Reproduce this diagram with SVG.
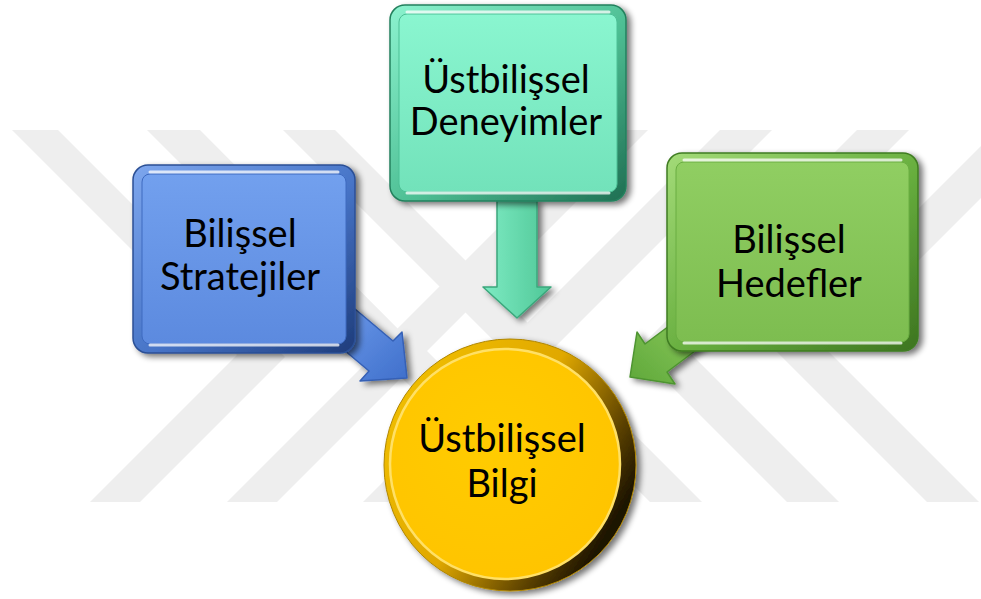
<svg xmlns="http://www.w3.org/2000/svg" width="981" height="599" viewBox="0 0 981 599">
<defs>
  <style>
    .wm { fill: #EEEEEE; }
    .lbl { font-family: Lato, "Open Sans", "DejaVu Sans", sans-serif; font-size: 38px; fill: #000; text-anchor: middle; }
    .hl { fill: none; stroke: #FFFFFF; stroke-width: 3; stroke-linecap: round; opacity: 0.75; }
  </style>
  <filter id="sh" x="-15%" y="-15%" width="135%" height="135%">
    <feGaussianBlur in="SourceAlpha" stdDeviation="3"/>
    <feOffset dx="4" dy="3" result="o"/>
    <feComponentTransfer><feFuncA type="linear" slope="0.55"/></feComponentTransfer>
    <feMerge><feMergeNode/><feMergeNode in="SourceGraphic"/></feMerge>
  </filter>
  <linearGradient id="bFrame" x1="0" y1="0" x2="1" y2="1">
    <stop offset="0" stop-color="#7EA7EE"/><stop offset="0.55" stop-color="#4673C6"/><stop offset="1" stop-color="#1E3C7A"/>
  </linearGradient>
  <linearGradient id="bFace" x1="0" y1="0" x2="0" y2="1">
    <stop offset="0" stop-color="#72A0EE"/><stop offset="1" stop-color="#5C8ADF"/>
  </linearGradient>
  <linearGradient id="tFrame" x1="0" y1="0" x2="1" y2="1">
    <stop offset="0" stop-color="#8CF3CF"/><stop offset="0.55" stop-color="#4DBE93"/><stop offset="1" stop-color="#1F6E52"/>
  </linearGradient>
  <linearGradient id="tFace" x1="0" y1="0" x2="0" y2="1">
    <stop offset="0" stop-color="#8AF6D0"/><stop offset="1" stop-color="#72E2BA"/>
  </linearGradient>
  <linearGradient id="gFrame" x1="0" y1="0" x2="1" y2="1">
    <stop offset="0" stop-color="#A3DB78"/><stop offset="0.55" stop-color="#66AD3D"/><stop offset="1" stop-color="#3D7420"/>
  </linearGradient>
  <linearGradient id="gFace" x1="0" y1="0" x2="0" y2="1">
    <stop offset="0" stop-color="#90CE62"/><stop offset="1" stop-color="#7DBD50"/>
  </linearGradient>
  <linearGradient id="yRim" x1="0" y1="0" x2="1" y2="0.6">
    <stop offset="0" stop-color="#F5C400"/><stop offset="0.55" stop-color="#E0A800"/><stop offset="0.85" stop-color="#5A4000"/><stop offset="1" stop-color="#1A1200"/>
  </linearGradient>
  <radialGradient id="yFace" cx="0.45" cy="0.4" r="0.7">
    <stop offset="0" stop-color="#FFCC00"/><stop offset="1" stop-color="#FFC300"/>
  </radialGradient>
  <linearGradient id="bArrow" x1="0" y1="0" x2="1" y2="1">
    <stop offset="0" stop-color="#6D9BEB"/><stop offset="1" stop-color="#3F6FCB"/>
  </linearGradient>
  <linearGradient id="tArrow" x1="0" y1="0" x2="1" y2="0">
    <stop offset="0" stop-color="#7EEBC3"/><stop offset="1" stop-color="#4FC797"/>
  </linearGradient>
  <linearGradient id="gArrow" x1="1" y1="0" x2="0" y2="1">
    <stop offset="0" stop-color="#8DCB5E"/><stop offset="1" stop-color="#5FA83A"/>
  </linearGradient>
</defs>

<rect width="981" height="599" fill="#FFFFFF"/>

<g id="watermark">
  <polygon class="wm" points="12,130 58,130 285,357 140,502 90,502 237,355"/>
  <polygon class="wm" points="147,130 200,130 424,355 277,502 227,502 373,356"/>
  <polygon class="wm" points="283,130 335,130 560,355 413,502 363,502 509,356"/>
  <polygon class="wm" points="596,130 648,130 427,351 578,502 526,502 375,351"/>
  <polygon class="wm" points="720,130 772,130 551,351 702,502 650,502 499,351"/>
  <polygon class="wm" points="857,130 909,130 688,351 839,502 787,502 636,351"/>
  <polygon class="wm" points="997,130 1049,130 828,351 979,502 927,502 776,351"/>
</g>

<g id="connectors">
  <polygon fill="url(#bArrow)" stroke="#3560B5" stroke-width="1.5" stroke-linejoin="round" filter="url(#sh)"
    points="355,309 393,341 402,332 407,378 360,381 369,371 331,339"/>
  <polygon fill="url(#tArrow)" stroke="#3BA77C" stroke-width="1.5" stroke-linejoin="round" filter="url(#sh)"
    points="497,200 537,200 537,287 551,287 517,318 483,287 497,287"/>
  <polygon fill="url(#gArrow)" stroke="#4E9430" stroke-width="1.5" stroke-linejoin="round" filter="url(#sh)"
    points="685,314 645,344 637,332 630,377 675,384 667,372 707,342"/>
</g>

<g id="node-stratejiler">
  <rect x="133" y="165" width="222" height="188" rx="15" fill="url(#bFrame)" stroke="#2B4F95" stroke-width="1.5" filter="url(#sh)"/>
  <rect x="142" y="174" width="204" height="170" rx="8" fill="url(#bFace)" stroke="#3E6AC0" stroke-width="1"/>
  <path class="hl" d="M150,172 H338"/>
  <path class="hl" d="M150,345 H338" stroke-width="4"/>
  <text class="lbl" x="240" y="247">Bilişsel</text>
  <text class="lbl" x="240" y="290">Stratejiler</text>
</g>

<g id="node-deneyimler">
  <rect x="390" y="5" width="236" height="196" rx="15" fill="url(#tFrame)" stroke="#23805D" stroke-width="1.5" filter="url(#sh)"/>
  <rect x="399" y="14" width="218" height="178" rx="8" fill="url(#tFace)" stroke="#4CC096" stroke-width="1"/>
  <path class="hl" d="M407,12 H609"/>
  <path class="hl" d="M407,193 H609" stroke-width="4"/>
  <text class="lbl" x="506" y="93">Üstbilişsel</text>
  <text class="lbl" x="506" y="135">Deneyimler</text>
</g>

<g id="node-hedefler">
  <rect x="667" y="153" width="251" height="198" rx="15" fill="url(#gFrame)" stroke="#3F7C22" stroke-width="1.5" filter="url(#sh)"/>
  <rect x="676" y="162" width="233" height="180" rx="8" fill="url(#gFace)" stroke="#6AAE42" stroke-width="1"/>
  <path class="hl" d="M684,160 H901"/>
  <path class="hl" d="M684,343 H901" stroke-width="4"/>
  <text class="lbl" x="789" y="253">Bilişsel</text>
  <text class="lbl" x="789" y="297">Hedefler</text>
</g>

<g id="node-bilgi">
  <circle cx="510" cy="465" r="126" fill="url(#yRim)" stroke="#B08600" stroke-width="1" filter="url(#sh)"/>
  <circle cx="505" cy="464" r="115" fill="url(#yFace)" stroke="#FFE066" stroke-width="2.5"/>
  <text class="lbl" x="502" y="452">Üstbilişsel</text>
  <text class="lbl" x="502" y="497">Bilgi</text>
</g>
</svg>
